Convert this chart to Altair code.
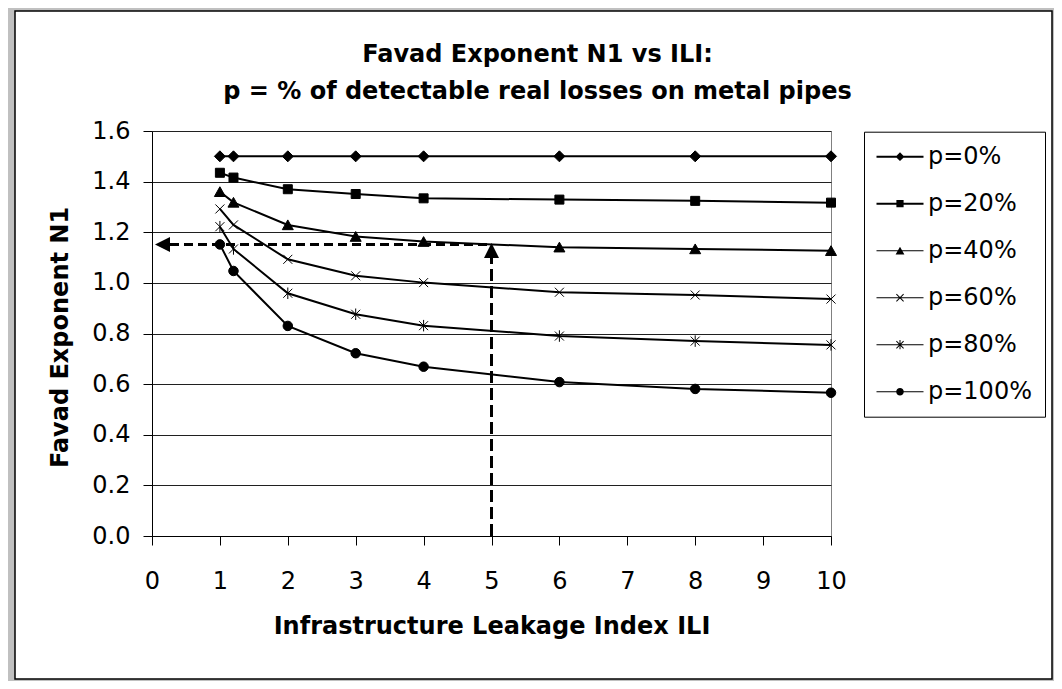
import altair as alt
import pandas as pd

# ---------------- data ----------------
ili = [1, 1.2, 2, 3, 4, 6, 8, 10]
series = ["p=0%", "p=20%", "p=40%", "p=60%", "p=80%", "p=100%"]
p0 = [1.50, 1.50, 1.50, 1.50, 1.50, 1.50, 1.50, 1.50]
p20 = [1.435, 1.416, 1.370, 1.351, 1.334, 1.329, 1.324, 1.317]
p40 = [1.360, 1.318, 1.229, 1.183, 1.163, 1.141, 1.134, 1.127]
p60 = [1.292, 1.229, 1.093, 1.028, 1.001, 0.963, 0.952, 0.936]
p80 = [1.222, 1.134, 0.959, 0.876, 0.831, 0.790, 0.770, 0.755]
p100 = [1.152, 1.047, 0.830, 0.722, 0.669, 0.608, 0.581, 0.566]

x_ticks = [0, 1, 2, 3, 4, 5, 6, 7, 8, 9, 10]
y_ticks = [0.0, 0.2, 0.4, 0.6, 0.8, 1.0, 1.2, 1.4, 1.6]

# reading guide (ILI = 5 -> N1 about 1.15)
guide_ili = 5.0
guide_n1 = 1.152
arrow_left_ili = 0.155
arrow_up_n1 = 1.128
dash_start_ili = 0.265
dash_end_n1 = 1.098

title_lines = ["Favad Exponent N1 vs ILI:", "p = % of detectable real losses on metal pipes"]

# ---------------- table ----------------
rows = []
for name, vals in zip(series, [p0, p20, p40, p60, p80, p100]):
    for x, v in zip(ili, vals):
        rows.append({"ILI": x, "N1": v, "series": name})
df = pd.DataFrame(rows)

FONT = "DejaVu Sans"

# marker paths for the plot (unit coordinates)
plot_paths = [
    "M0,-1.1L1.1,0L0,1.1L-1.1,0Z",
    "M-0.9,-0.9H0.9V0.9H-0.9Z",
    "M0,-1L1.1,0.95L-1.1,0.95Z",
    "M-0.9,-0.9L0.9,0.9M-0.9,0.9L0.9,-0.9",
    "M-0.9,-0.9L0.9,0.9M-0.9,0.9L0.9,-0.9M0,-1.15L0,1.15",
    "M0.95,0A0.95,0.95,0,1,1,-0.95,0A0.95,0.95,0,1,1,0.95,0Z",
]
# legend symbols: line + marker, all drawn as filled shapes (same winding)
thick = "M-5.875,-0.25V0.25H5.875V-0.25Z"
thin = "M-5.875,-0.125V0.125H5.875V-0.125Z"
xbars = ("M-0.988,-0.812L0.812,0.988L0.988,0.812L-0.812,-0.988Z"
         "M-0.988,0.812L-0.812,0.988L0.988,-0.812L0.812,-0.988Z")
vbar = "M-0.125,-1.15L-0.125,1.15L0.125,1.15L0.125,-1.15Z"
legend_paths = [
    thick + "M0,-1.1L-1.1,0L0,1.1L1.1,0Z",
    thick + "M-0.9,-0.9V0.9H0.9V-0.9Z",
    thin + "M0,-1L-1.1,0.95L1.1,0.95Z",
    thin + xbars,
    thin + xbars + vbar,
    thin + "M0.95,0A0.95,0.95,0,1,0,-0.95,0A0.95,0.95,0,1,0,0.95,0Z",
]

PLOT_W, PLOT_H = 679, 405

x_enc = alt.X(
    "ILI:Q",
    scale=alt.Scale(domain=[0, 10], nice=False, zero=False),
    axis=alt.Axis(
        values=x_ticks, format="d", title="Infrastructure Leakage Index ILI",
        grid=False, labelPadding=24.5, labelFlush=False, titleX=PLOT_W / 2, titleY=78.5,
        titleBaseline="top", titleAlign="center",
    ),
)
y_enc = alt.Y(
    "N1:Q",
    scale=alt.Scale(domain=[0, 1.6], nice=False),
    axis=alt.Axis(
        values=y_ticks, format=".1f", title="Favad Exponent N1", grid=True,
        labelPadding=13, labelFlush=False, titleX=-91.5, titleY=206, titleAngle=270,
        titleBaseline="middle", titleAlign="center",
    ),
)

base = alt.Chart(df)

lines = base.mark_line(color="black").encode(
    x=x_enc, y=y_enc, detail="series:N",
    strokeWidth=alt.StrokeWidth(
        "series:O", scale=alt.Scale(domain=series, range=[2, 2, 1.1, 1.1, 1.1, 1.1]),
        legend=None,
    ),
)

points = base.mark_point(
    filled=True, color="black", stroke="black", strokeWidth=1, size=100, opacity=1
).encode(
    x=x_enc, y=y_enc,
    shape=alt.Shape("series:N", scale=alt.Scale(domain=series, range=plot_paths), legend=None),
)

legend_layer = base.transform_filter("false").mark_point(
    filled=True, color="black", size=64, opacity=1
).encode(
    x=x_enc, y=y_enc,
    shape=alt.Shape(
        "series:N",
        scale=alt.Scale(domain=series, range=legend_paths),
        legend=alt.Legend(
            title=None, orient="none", legendX=712, legendY=0.7, padding=13,
            strokeColor="black", fillColor="white", labelFont=FONT, labelFontSize=24,
            labelColor="black", rowPadding=23, symbolSize=64, symbolOffset=11,
            labelOffset=16, symbolFillColor="black", symbolOpacity=1,
            labelLimit=250, cornerRadius=0,
        ),
    ),
)

hguide = alt.Chart(pd.DataFrame({"ILI": [dash_start_ili], "ILI_end": [guide_ili], "N1": [guide_n1]})).mark_rule(
    color="black", strokeWidth=3, strokeDash=[9, 5]
).encode(x=x_enc, x2="ILI_end:Q", y=y_enc)

vguide = alt.Chart(pd.DataFrame({"ILI": [guide_ili], "N1": [0.0], "N1_end": [dash_end_n1]})).mark_rule(
    color="black", strokeWidth=3, strokeDash=[12, 5]
).encode(x=x_enc, y=y_enc, y2="N1_end:Q")

arrow_left = alt.Chart(pd.DataFrame({"ILI": [arrow_left_ili], "N1": [guide_n1]})).mark_point(
    shape="M-1,0L1,-1L1,1Z", filled=True, color="black", size=225, opacity=1
).encode(x=x_enc, y=y_enc)

arrow_up = alt.Chart(pd.DataFrame({"ILI": [guide_ili], "N1": [arrow_up_n1]})).mark_point(
    shape="M0,-1L1,1L-1,1Z", filled=True, color="black", size=225, opacity=1
).encode(x=x_enc, y=y_enc)

deco = pd.DataFrame({"k": [0]})
gray_band = alt.Chart(deco).mark_rect(fill="transparent", stroke="#c0c0c0", strokeWidth=7).encode(
    x=alt.value(-140.5), x2=alt.value(903.5), y=alt.value(-123.5), y2=alt.value(551.5)
)
frame = alt.Chart(deco).mark_rect(fill="transparent", stroke="black", strokeWidth=1.5).encode(
    x=alt.value(-137), x2=alt.value(900), y=alt.value(-120), y2=alt.value(548)
)

chart = alt.layer(
    gray_band, frame, lines, points, legend_layer, hguide, vguide, arrow_left, arrow_up
).resolve_scale(shape="independent").properties(
    width=PLOT_W, height=PLOT_H,
    autosize=alt.AutoSizeParams(type="none"),
    padding={"left": 144, "top": 123, "right": 223, "bottom": 145},
    title=alt.TitleParams(
        text=title_lines, font=FONT, fontSize=24, fontWeight="bold", color="black",
        lineHeight=37, anchor="middle", dx=46, dy=127, offset=27, frame="group",
    ),
).configure(font=FONT, background="white").configure_view(
    stroke="#808080", strokeWidth=1
).configure_axis(
    labelFont=FONT, labelFontSize=24, labelColor="black",
    titleFont=FONT, titleFontSize=24, titleFontWeight="bold", titleColor="black",
    tickColor="black", tickSize=9, tickWidth=1, domainColor="black", domainWidth=1,
    gridColor="#202020", gridWidth=1, gridOpacity=1,
)

chart.save("out.html", embed_options={"renderer": "svg", "actions": False})
